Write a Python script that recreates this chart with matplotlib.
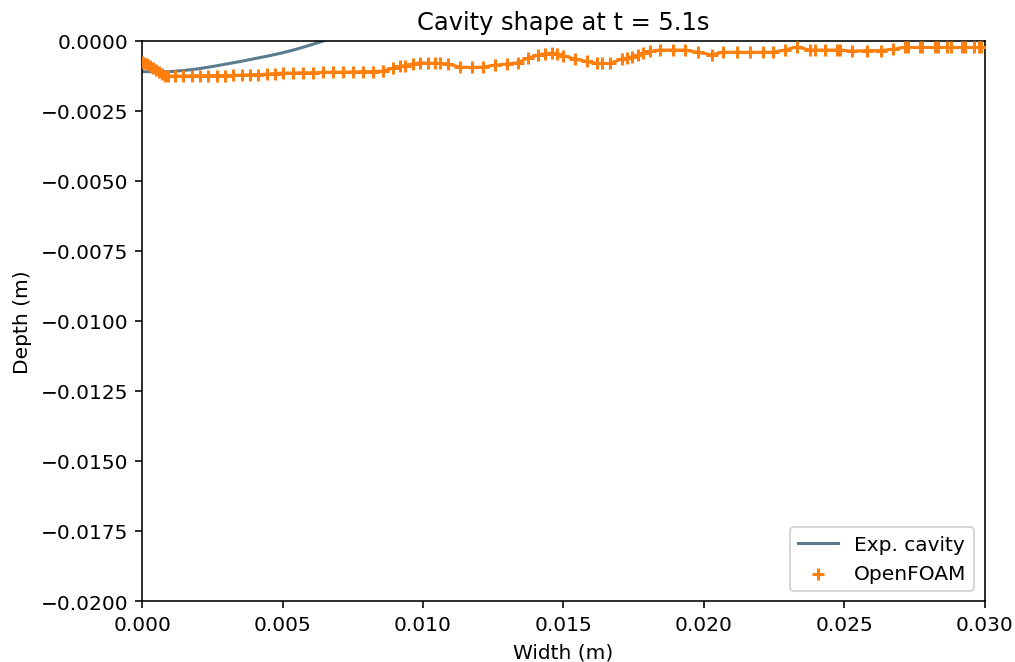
import matplotlib
matplotlib.use('Agg')
import matplotlib.pyplot as plt

# experimental cavity profile (m)
exp_x = [0.0, 0.0005, 0.001, 0.0015, 0.002, 0.0025, 0.003, 0.0035, 0.004,
         0.0045, 0.005, 0.0055, 0.006, 0.0065, 0.007]
exp_y = [-0.00110, -0.00111, -0.00110, -0.00106, -0.00100, -0.00092, -0.00083,
         -0.00074, -0.00064, -0.00054, -0.00043, -0.00030, -0.00015, 0.00001, 0.0002]

# OpenFOAM interface points (m)
of_x = [0.0, 0.00007, 0.00018, 0.00028, 0.00039, 0.0005, 0.0006, 0.00071, 0.00082, 0.00093,
        0.00117, 0.00146, 0.00178, 0.00206, 0.00235, 0.00267, 0.00295, 0.00324, 0.00356,
        0.00384, 0.00413, 0.00445, 0.00473, 0.00502,
        0.00537, 0.00573, 0.00609, 0.00644, 0.0068, 0.00715, 0.00751, 0.00786, 0.00822,
        0.00858, 0.00893, 0.00918, 0.00936, 0.00964, 0.00989,
        0.01018, 0.01043, 0.0106, 0.01089, 0.01132, 0.01174, 0.01214, 0.01256, 0.01299,
        0.01338, 0.01374, 0.01409, 0.01434, 0.01459, 0.01477, 0.01498,
        0.01541, 0.01584, 0.01619, 0.01637, 0.01665, 0.01708, 0.01726, 0.01744, 0.01765,
        0.01783, 0.01808, 0.01843, 0.0189, 0.01932, 0.01979,
        0.02028, 0.02068, 0.02117, 0.02164, 0.0221, 0.02246, 0.02288, 0.02331, 0.02377,
        0.02395, 0.02431, 0.02473,
        0.02484, 0.02527, 0.0258, 0.02633, 0.02673, 0.02715, 0.02726, 0.02769, 0.02779,
        0.02822, 0.02833, 0.02868, 0.02879, 0.02918, 0.02929, 0.02964, 0.02979, 0.02989]
of_y = [-0.00076, -0.0008, -0.00083, -0.0009, -0.00098, -0.00105, -0.00112, -0.00119, -0.00124, -0.00126,
        -0.00126, -0.00126, -0.00125, -0.00125, -0.00124, -0.00124, -0.00124, -0.00123, -0.00123,
        -0.00121, -0.00121, -0.00119, -0.00117, -0.00115,
        -0.00115, -0.00114, -0.00114, -0.00113, -0.00112, -0.00112, -0.00111, -0.0011, -0.0011,
        -0.00108, -0.00098, -0.00091, -0.00089, -0.00083, -0.00078,
        -0.0008, -0.0008, -0.00081, -0.00083, -0.00094, -0.00095, -0.00094, -0.00087, -0.00083,
        -0.00078, -0.00062, -0.00051, -0.00046, -0.00044, -0.00046, -0.00053,
        -0.00065, -0.00074, -0.00081, -0.00081, -0.00081, -0.00065, -0.00062, -0.00057, -0.0005,
        -0.00045, -0.00038, -0.00033, -0.00033, -0.00033, -0.00041,
        -0.0005, -0.00041, -0.00041, -0.00041, -0.00041, -0.00041, -0.00033, -0.00022, -0.00033,
        -0.00033, -0.00033, -0.00033,
        -0.00033, -0.00037, -0.00035, -0.00035, -0.0003, -0.00024, -0.00024, -0.00024, -0.00024,
        -0.00024, -0.00024, -0.00024, -0.00024, -0.00024, -0.00024, -0.00024, -0.00024, -0.00024]

fig = plt.figure(figsize=(1015 / 145, 663 / 145), dpi=145)
ax = fig.add_axes([0.14, 0.092, 0.83, 0.845])

ax.plot(exp_x, exp_y, color='#5b7b90', label='Exp. cavity')
ax.plot(of_x, of_y, color='C1')  # connecting line, no legend entry
ax.scatter(of_x, of_y, marker='+', color='C1', label='OpenFOAM', zorder=3)

ax.set_xlim(0, 0.03)
ax.set_ylim(-0.02, 0)
ax.set_title('Cavity shape at t = 5.1s')
ax.set_xlabel('Width (m)')
ax.set_ylabel('Depth (m)')
ax.legend(loc='lower right')

fig.savefig('out.png', dpi=145)
